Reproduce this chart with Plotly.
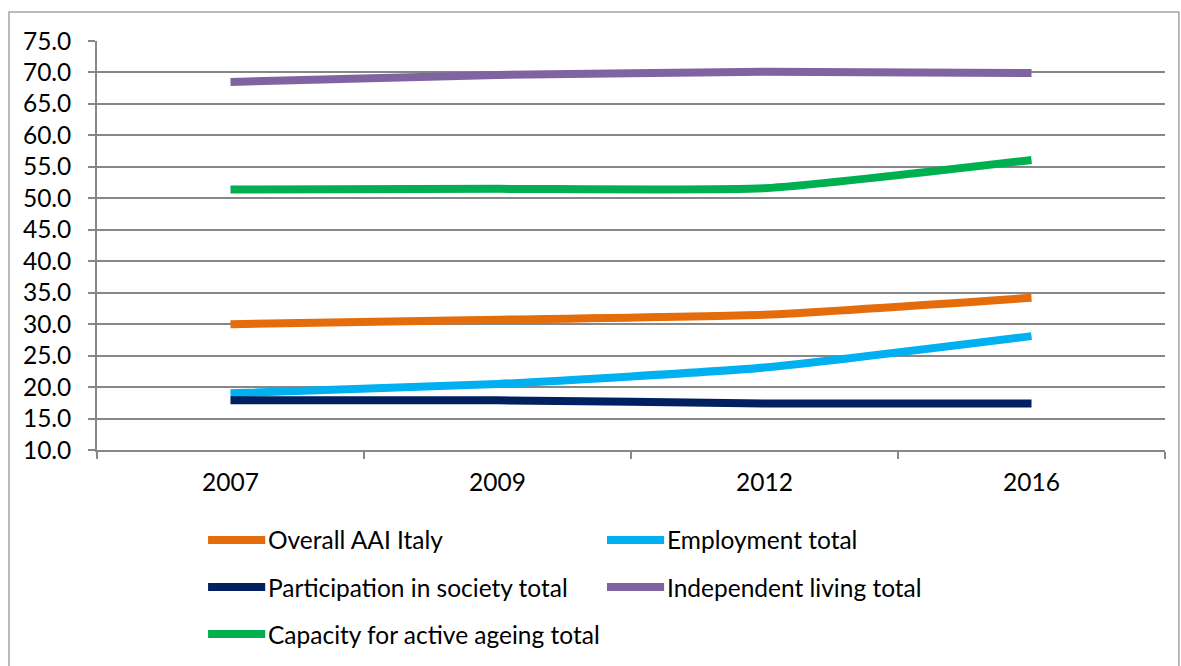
import plotly.graph_objects as go

years = ["2007", "2009", "2012", "2016"]
overall = [30.0, 30.7, 31.5, 34.2]
employment = [19.0, 20.5, 23.1, 28.1]
participation = [17.9, 17.9, 17.4, 17.4]
independent = [68.5, 69.6, 70.1, 69.9]
capacity = [51.4, 51.5, 51.6, 56.1]

names = ["Overall AAI Italy", "Employment total", "Participation in society total",
         "Independent living total", "Capacity for active ageing total"]
series = [overall, employment, participation, independent, capacity]
colors = ["#E46C0A", "#00B0F0", "#002060", "#8064A2", "#00B050"]

FONT = "Lato"
FS = 24.5
fig = go.Figure()
for name, vals, col in zip(names, series, colors):
    fig.add_trace(go.Scatter(x=years, y=vals, name=name, mode="lines",
                             line=dict(color=col, width=8, shape="spline", smoothing=0.5),
                             showlegend=False))

# manual legend (two columns)
leg_x = [0.104, 0.4775]
leg_y = [-0.22, -0.335, -0.45]
for i, (name, col) in enumerate(zip(names, colors)):
    cx = leg_x[i % 2]
    cy = leg_y[i // 2]
    fig.add_shape(type="line", xref="paper", yref="paper", x0=cx, x1=cx + 0.0535,
                  y0=cy, y1=cy, line=dict(color=col, width=8))
    fig.add_annotation(xref="paper", yref="paper", x=cx + 0.0545, y=cy, text=name,
                       showarrow=False, xanchor="left", yanchor="middle",
                       font=dict(family=FONT, size=FS, color="#000000"))

# outer chart border
fig.add_shape(type="rect", xref="paper", yref="paper", x0=-0.0824, x1=1.013,
              y0=-0.53, y1=1.0709, line=dict(color="#A6A6A6", width=1.5))

fig.update_layout(
    width=1181, height=666,
    margin=dict(l=97, r=16, t=41, b=216),
    paper_bgcolor="white", plot_bgcolor="white",
    font=dict(family=FONT, size=FS, color="#000000"),
)
fig.update_xaxes(type="category", showgrid=False, showline=True, linecolor="#878787",
                 linewidth=1.5, ticks="outside", tickson="boundaries", ticklen=7,
                 tickcolor="#878787", tickwidth=1.5, tickfont=dict(family=FONT, size=FS),
                 ticklabelstandoff=10, range=[-0.5, 3.5])
fig.update_yaxes(range=[10, 75], dtick=5, tick0=10, tickformat=".1f", showgrid=True,
                 gridcolor="#878787", gridwidth=1.5, showline=True, linecolor="#878787",
                 linewidth=1.5, ticks="outside", ticklen=7, tickcolor="#878787",
                 tickwidth=1.5, tickfont=dict(family=FONT, size=FS), zeroline=False,
                 ticklabelstandoff=12)

fig.write_html("out.html")
